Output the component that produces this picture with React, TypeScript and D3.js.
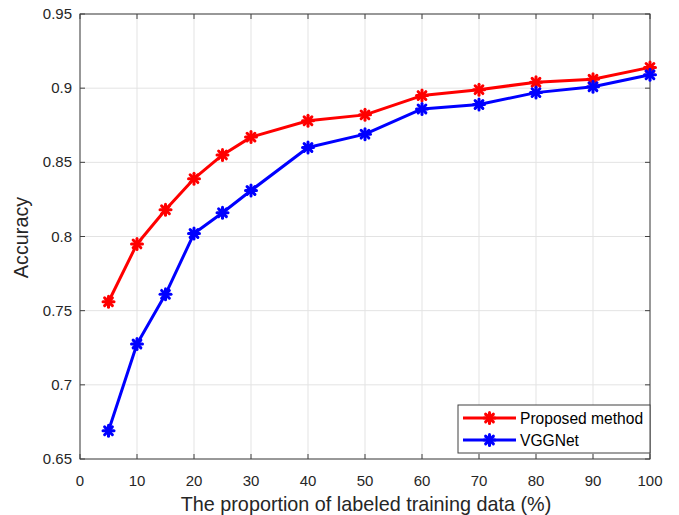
import React from "react";
import * as d3 from "d3";

const xs = [5, 10, 15, 20, 25, 30, 40, 50, 60, 70, 80, 90, 100];
const proposed = [0.756, 0.795, 0.818, 0.839, 0.855, 0.867, 0.878, 0.882, 0.895, 0.899, 0.904, 0.906, 0.914];
const vggnet = [0.669, 0.7275, 0.761, 0.802, 0.816, 0.831, 0.860, 0.869, 0.886, 0.889, 0.897, 0.901, 0.909];
const xTicks = [0, 10, 20, 30, 40, 50, 60, 70, 80, 90, 100];
const yTicks = [0.65, 0.7, 0.75, 0.8, 0.85, 0.9, 0.95];
const yTickLabels = ["0.65", "0.7", "0.75", "0.8", "0.85", "0.9", "0.95"];
const seriesNames = ["Proposed method", "VGGNet"];
const seriesColors = ["#ff0000", "#0000ff"];

const W = 679, H = 515;
const L = 80, R = 650, T = 14, B = 459;
const font = "'Liberation Sans', Arial, sans-serif";

function Star({ x, y, color }: { x: number; y: number; color: string }) {
  const r = 5.5;
  const segs = [0, 45, 90, 135].map((a) => {
    const rad = (a * Math.PI) / 180;
    return [x - r * Math.cos(rad), y - r * Math.sin(rad), x + r * Math.cos(rad), y + r * Math.sin(rad)];
  });
  return (
    <g stroke={color} strokeWidth={3} strokeLinecap="round">
      <circle cx={x} cy={y} r={3} fill={color} stroke="none" />
      {segs.map((s, i) => (
        <line key={i} x1={s[0]} y1={s[1]} x2={s[2]} y2={s[3]} />
      ))}
    </g>
  );
}

export default function App() {
  const x = d3.scaleLinear().domain([0, 100]).range([L, R]);
  const y = d3.scaleLinear().domain([0.65, 0.95]).range([B, T]);
  const line = d3
    .line<number>()
    .x((_, i) => x(xs[i]))
    .y((d) => y(d));
  const series = [proposed, vggnet];
  const axisColor = "#404040";
  const tick = 5;
  return (
    <svg width={W} height={H} style={{ position: "absolute", left: 0, top: 0 }} fontFamily={font}>
      <rect x={0} y={0} width={W} height={H} fill="#fff" />
      {xTicks.map((t) => (
        <line key={"gx" + t} x1={x(t)} x2={x(t)} y1={T} y2={B} stroke="#e3e3e3" strokeWidth={1} />
      ))}
      {yTicks.map((t) => (
        <line key={"gy" + t} x1={L} x2={R} y1={y(t)} y2={y(t)} stroke="#e3e3e3" strokeWidth={1} />
      ))}
      <rect x={L} y={T} width={R - L} height={B - T} fill="none" stroke={axisColor} strokeWidth={1} />
      {xTicks.map((t) => (
        <g key={"tx" + t} stroke={axisColor}>
          <line x1={x(t)} x2={x(t)} y1={B} y2={B - tick} />
          <line x1={x(t)} x2={x(t)} y1={T} y2={T + tick} />
        </g>
      ))}
      {yTicks.map((t) => (
        <g key={"ty" + t} stroke={axisColor}>
          <line x1={L} x2={L + tick} y1={y(t)} y2={y(t)} />
          <line x1={R} x2={R - tick} y1={y(t)} y2={y(t)} />
        </g>
      ))}
      {xTicks.map((t) => (
        <text key={"lx" + t} x={x(t)} y={486} textAnchor="middle" fontSize={15} fill="#262626">
          {t}
        </text>
      ))}
      {yTicks.map((t, i) => (
        <text key={"ly" + t} x={72} y={y(t) + 5} textAnchor="end" fontSize={15} fill="#262626">
          {yTickLabels[i]}
        </text>
      ))}
      <text x={(L + R) / 2 + 1} y={511} textAnchor="middle" fontSize={19.8} fill="#262626">
        The proportion of labeled training data (%)
      </text>
      <text transform={`translate(28,${(T + B) / 2 + 1}) rotate(-90)`} textAnchor="middle" fontSize={19.8} fill="#262626">
        Accuracy
      </text>
      {series.map((s, k) => (
        <g key={"s" + k}>
          <path d={line(s) || ""} fill="none" stroke={seriesColors[k]} strokeWidth={3} strokeLinejoin="round" />
          {s.map((v, i) => (
            <Star key={i} x={x(xs[i])} y={y(v)} color={seriesColors[k]} />
          ))}
        </g>
      ))}
      <rect x={458} y={405} width={192} height={48} fill="#fff" stroke={axisColor} strokeWidth={1} />
      {seriesNames.map((n, k) => {
        const ly = 418 + k * 22;
        return (
          <g key={"lg" + k}>
            <line x1={463} x2={516} y1={ly} y2={ly} stroke={seriesColors[k]} strokeWidth={3} />
            <Star x={489.5} y={ly} color={seriesColors[k]} />
            <text x={520} y={ly + 5.5} fontSize={15.6} fill="#000">
              {n}
            </text>
          </g>
        );
      })}
    </svg>
  );
}
